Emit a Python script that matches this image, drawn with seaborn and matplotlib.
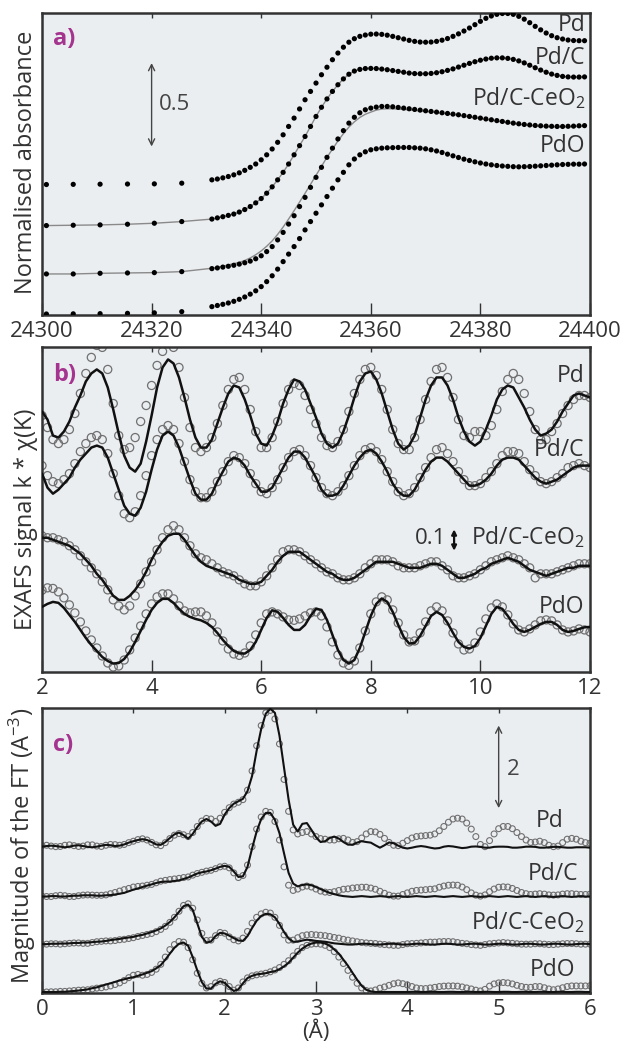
import numpy as np
import matplotlib
matplotlib.use("Agg")
import matplotlib.pyplot as plt
import seaborn as sns

# ---------------- panel a : XANES (normalised absorbance, stacked) ----------------
E_PRE = [24300.8, 24305.7, 24310.6, 24315.6, 24320.5, 24325.5]
E_EDGE = list(range(24331, 24400))
A_LABELS = ["Pd", "Pd/C", "Pd/C-CeO$_2$", "PdO"]

PD_A = [0.782, 0.783, 0.784, 0.785, 0.786, 0.790,
        0.810, 0.815, 0.822, 0.830, 0.840, 0.852, 0.867, 0.885, 0.905, 0.930,
        0.960, 0.995, 1.035, 1.080, 1.130, 1.180, 1.235, 1.290, 1.340, 1.390,
        1.440, 1.485, 1.530, 1.570, 1.605, 1.635, 1.656, 1.670, 1.678, 1.683,
        1.684, 1.682, 1.677, 1.670, 1.662, 1.654, 1.646, 1.640, 1.636, 1.635,
        1.636, 1.640, 1.647, 1.657, 1.670, 1.685, 1.702, 1.720, 1.740, 1.760,
        1.778, 1.792, 1.802, 1.807, 1.807, 1.802, 1.790, 1.773, 1.752, 1.730,
        1.709, 1.690, 1.674, 1.662, 1.654, 1.648, 1.645, 1.644, 1.644]
PDC_A = [0.536, 0.538, 0.540, 0.544, 0.550, 0.560,
         0.575, 0.582, 0.589, 0.597, 0.605, 0.617, 0.632, 0.650, 0.672, 0.698,
         0.730, 0.768, 0.810, 0.855, 0.905, 0.960, 1.015, 1.070, 1.130, 1.190,
         1.245, 1.295, 1.340, 1.380, 1.415, 1.443, 1.462, 1.472, 1.477, 1.478,
         1.477, 1.474, 1.470, 1.465, 1.460, 1.455, 1.450, 1.447, 1.446, 1.446,
         1.448, 1.452, 1.458, 1.466, 1.475, 1.486, 1.497, 1.508, 1.518, 1.527,
         1.534, 1.539, 1.541, 1.541, 1.538, 1.532, 1.523, 1.511, 1.497, 1.482,
         1.468, 1.455, 1.444, 1.436, 1.430, 1.427, 1.426, 1.426, 1.427]
CEO_A = [0.246, 0.246, 0.250, 0.252, 0.254, 0.260,
         0.278, 0.282, 0.287, 0.292, 0.298, 0.305, 0.313, 0.323, 0.337, 0.355,
         0.380, 0.410, 0.450, 0.495, 0.545, 0.595, 0.650, 0.705, 0.765, 0.825,
         0.885, 0.945, 1.000, 1.055, 1.105, 1.150, 1.185, 1.212, 1.230, 1.240,
         1.246, 1.250, 1.250, 1.248, 1.244, 1.240, 1.236, 1.232, 1.228, 1.224,
         1.220, 1.216, 1.212, 1.208, 1.204, 1.200, 1.195, 1.190, 1.185, 1.180,
         1.175, 1.170, 1.165, 1.160, 1.155, 1.150, 1.146, 1.142, 1.139, 1.136,
         1.134, 1.132, 1.131, 1.130, 1.130, 1.131, 1.132, 1.134, 1.135]
CEO_FIT_A = [0.246, 0.246, 0.250, 0.252, 0.254, 0.260,
             0.280, 0.286, 0.292, 0.300, 0.308, 0.315, 0.327, 0.342, 0.361, 0.384,
             0.412, 0.444, 0.483, 0.527, 0.575, 0.625, 0.677, 0.729, 0.783, 0.837,
             0.891, 0.945, 0.994, 1.043, 1.087, 1.126, 1.158, 1.184, 1.203, 1.216,
             1.228, 1.234, 1.236, 1.236, 1.234, 1.232, 1.229, 1.226, 1.223, 1.220,
             1.217, 1.213, 1.209, 1.205, 1.201, 1.197, 1.192, 1.187, 1.182, 1.177,
             1.172, 1.167, 1.162, 1.157, 1.152, 1.147, 1.143, 1.139, 1.136, 1.133,
             1.131, 1.129, 1.128, 1.127, 1.127, 1.128, 1.129, 1.131, 1.132]
PDO_A = [0.006, 0.007, 0.008, 0.010, 0.013, 0.020,
         0.050, 0.057, 0.064, 0.072, 0.082, 0.094, 0.108, 0.125, 0.145, 0.170,
         0.200, 0.235, 0.275, 0.320, 0.365, 0.410, 0.458, 0.510, 0.560, 0.610,
         0.660, 0.710, 0.760, 0.810, 0.855, 0.900, 0.935, 0.960, 0.978, 0.990,
         0.996, 1.000, 1.002, 1.003, 1.004, 1.004, 1.004, 1.002, 1.000, 0.996,
         0.990, 0.983, 0.974, 0.964, 0.954, 0.944, 0.934, 0.926, 0.918, 0.911,
         0.905, 0.900, 0.896, 0.893, 0.891, 0.889, 0.888, 0.889, 0.890, 0.892,
         0.894, 0.896, 0.898, 0.900, 0.902, 0.903, 0.904, 0.904, 0.905]
A_LABEL_Y = [1.74, 1.54, 1.30, 1.01]
A_XTICKS = [24300, 24320, 24340, 24360, 24380, 24400]

# ---------------- panel b : EXAFS k*chi(k), values in units of 0.01 ----------------
K_MIN, K_MAX, K_N = 2.0, 12.0, 101
PD_DAT_B = [128, 122, 116, 114, 116, 121, 129, 139, 149, 157,
            163, 162, 151, 134, 118, 111, 112, 117, 125, 133,
            143, 153, 160, 164, 162, 152, 137, 122, 112, 110,
            112, 117, 124, 133, 141, 146, 147, 141, 131, 120,
            112, 112, 117, 125, 134, 141, 144, 143, 138, 131,
            124, 117, 113, 112, 115, 121, 130, 139, 146, 151,
            152, 148, 141, 131, 121, 114, 111, 111, 117, 126,
            136, 145, 151, 152, 147, 137, 126, 118, 117, 120,
            120, 118, 123, 131, 140, 146, 149, 146, 139, 130,
            121, 116, 116, 120, 124, 129, 133, 136, 138, 138,
            137]
PD_FIT_B = [130, 126, 118, 117, 120, 125, 132, 138, 145, 149,
            151, 149, 142, 131, 119, 108, 102, 100, 104, 115,
            128, 142, 152, 156, 154, 147, 137, 126, 117, 112,
            112, 116, 124, 132, 139, 143, 142, 136, 128, 119,
            114, 113, 118, 125, 134, 141, 146, 145, 141, 134,
            127, 119, 114, 112, 114, 120, 128, 137, 145, 149,
            150, 146, 139, 130, 121, 114, 111, 113, 118, 127,
            136, 143, 147, 147, 143, 136, 127, 120, 115, 113,
            115, 121, 128, 136, 141, 143, 142, 137, 132, 126,
            121, 118, 119, 121, 125, 130, 134, 138, 139, 138,
            137]
PDC_DAT_B = [103, 98, 95, 94, 96, 99, 104, 110, 114, 117,
             118, 116, 109, 99, 88, 79, 77, 80, 88, 98,
             108, 116, 121, 123, 121, 114, 105, 96, 90, 87,
             87, 90, 95, 100, 105, 108, 107, 104, 99, 94,
             90, 89, 92, 96, 102, 107, 110, 111, 108, 103,
             97, 92, 89, 88, 90, 93, 98, 103, 108, 111,
             112, 110, 106, 100, 95, 90, 88, 89, 92, 97,
             102, 107, 111, 112, 109, 105, 100, 96, 93, 93,
             94, 97, 100, 104, 108, 110, 110, 109, 105, 101,
             98, 95, 94, 95, 97, 99, 102, 103, 104, 103,
             102]
PDC_FIT_B = [99, 92, 89, 91, 94, 97, 102, 106, 109, 112,
             113, 112, 107, 99, 91, 83, 79, 78, 82, 90,
             101, 111, 118, 120, 118, 112, 104, 96, 89, 86,
             86, 89, 95, 100, 105, 107, 106, 103, 98, 94,
             90, 90, 92, 97, 102, 107, 110, 110, 107, 102,
             97, 91, 88, 88, 89, 93, 98, 103, 107, 110,
             111, 109, 105, 100, 94, 90, 88, 88, 91, 96,
             101, 105, 107, 107, 105, 102, 99, 96, 93, 93,
             94, 96, 99, 103, 106, 107, 107, 106, 103, 100,
             97, 95, 94, 95, 96, 98, 100, 102, 103, 103,
             103]
CEO_DAT_B = [68, 67, 67, 66, 65, 63, 61, 58, 55, 52,
             49, 45, 41, 36, 33, 31, 33, 38, 44, 50,
             55, 61, 67, 71, 73, 71, 67, 63, 59, 57,
             56, 54, 52, 50, 49, 48, 46, 44, 43, 43,
             45, 48, 52, 56, 60, 61, 61, 60, 58, 56,
             54, 52, 50, 49, 47, 46, 46, 47, 49, 52,
             54, 56, 56, 56, 55, 53, 52, 52, 52, 53,
             54, 55, 55, 53, 51, 48, 47, 47, 48, 49,
             51, 53, 55, 56, 57, 58, 57, 56, 54, 52,
             47, 49, 49, 49, 50, 51, 52, 53, 54, 54,
             54]
CEO_FIT_B = [67, 67, 66, 65, 64, 63, 61, 59, 56, 53,
             49, 46, 42, 38, 36, 36, 38, 41, 45, 50,
             56, 61, 65, 68, 69, 69, 66, 62, 58, 55,
             53, 52, 51, 50, 49, 48, 46, 45, 44, 44,
             45, 48, 51, 55, 58, 60, 60, 60, 58, 56,
             54, 52, 50, 49, 47, 46, 46, 47, 49, 51,
             53, 55, 55, 55, 55, 54, 53, 52, 52, 52,
             53, 54, 54, 53, 51, 49, 47, 47, 48, 49,
             51, 52, 54, 55, 56, 57, 56, 55, 53, 51,
             50, 49, 48, 49, 50, 51, 52, 52, 53, 53,
             53]
PDO_DAT_B = [40.8, 42, 41.7, 40, 37, 33.5, 29.5, 25, 20.5, 16,
             12, 8, 4.5, 2.5, 3, 6, 11, 17, 23, 29,
             34, 37.5, 39, 39, 36.5, 33, 30.5, 29.5, 30, 30,
             28, 24.5, 20, 15.5, 11.5, 9, 8.3, 9.5, 13, 18.5,
             24.5, 29, 30, 29, 27.5, 26, 25.8, 26.5, 28, 29.5,
             30, 28, 22.5, 15, 8.5, 4.5, 3.3, 5.5, 12, 20.5,
             29, 35, 37.5, 36, 31, 24.5, 18.5, 15, 15.5, 19.5,
             25, 30.5, 32.5, 30.5, 25.5, 19.5, 14, 11, 11.5, 14.5,
             20, 26.5, 32, 34, 32.5, 28.5, 24, 21, 20, 21.5,
             23.5, 25.5, 26, 25.5, 23.5, 21, 20, 20.5, 21.5, 21,
             20]
PDO_FIT_B = [32.5, 34, 35, 34.5, 32, 28.5, 25, 21, 17, 13.5,
             10.5, 7.5, 5.5, 4.2, 4.5, 6.5, 10, 15, 20.5, 26,
             31, 34.5, 36.5, 36.5, 34.5, 31.5, 29, 27.5, 26.5, 25.8,
             24.5, 22.5, 19.5, 16, 13, 10.5, 9.3, 9.2, 11, 15,
             21, 27, 30.8, 30, 27, 23.5, 21, 21, 23.5, 28,
             31.5, 31, 26, 18.5, 11, 6, 4.2, 6, 12, 20,
             28, 34, 36.7, 35, 30, 23.5, 17.5, 14.2, 14.5, 18,
             23, 28, 30, 28.5, 24.5, 19.5, 15, 12.5, 11.7, 13,
             17, 23, 29, 32.5, 31.5, 28, 24, 21, 20, 21,
             22.5, 24, 25, 25, 23.5, 21, 20, 20.5, 21.5, 22.3,
             22.5]
B_LABEL_Y = [1.475, 1.108, 0.675, 0.325]
B_XTICKS = [2, 4, 6, 8, 10, 12]

# ---------------- panel c : |FT|, values in units of 0.1 A^-3 ----------------
R_MIN, R_MAX, R_N = 0.0, 6.0, 121
PD_DAT_C = [36.5, 36.6, 36.4, 36.25, 36.3, 36.6, 36.7, 36.5, 36.3, 36.4,
            36.7, 36.7, 36.4, 36.3, 36.6, 36.8, 36.75, 36.6, 36.8, 37.25,
            37.6, 38, 38.2, 37.9, 37.3, 36.7, 36.5, 37.25, 38.25, 39.1,
            39.5, 39.2, 38.75, 39.75, 41.25, 42.6, 43.25, 43.1, 42.5, 43.3,
            44.75, 45.9, 46.8, 47.25, 47.9, 50.25, 55, 61.25, 66.25, 69.4,
            70, 67.9, 61.7, 52.9, 45, 40.4, 39.4, 39.75, 40, 39.4,
            38.75, 38.25, 38.1, 37.9, 37.9, 38.2, 38.3, 37.9, 37.3, 37.5,
            38.4, 39.4, 40, 39.9, 39.3, 38.3, 37.3, 36.6, 36.5, 37.1,
            37.75, 38.4, 38.75, 38.9, 39, 39.1, 39.4, 40.2, 41.25, 42.3,
            43.1, 43.3, 43.1, 42.1, 40.6, 38.75, 36.8, 36.25, 37.75, 39.4,
            40.7, 41.25, 41.25, 40.7, 39.75, 38.75, 37.9, 37.3, 37.4, 37.6,
            37.25, 36.6, 36.25, 36.4, 37.25, 38.1, 38.3, 38.1, 37.6, 37.25,
            37.1]
PD_FIT_C = [36.25, 36.4, 36.5, 36.4, 36.25, 36.1, 36.25, 36.5, 36.6, 36.4,
            36.2, 36.1, 36.25, 36.5, 36.7, 36.6, 36.4, 36.5, 36.8, 37.25,
            37.6, 37.9, 38.1, 37.9, 37.4, 36.8, 36.7, 37.4, 38.4, 39.3,
            39.75, 39.1, 38.25, 39.4, 41.1, 42.5, 43.1, 42.5, 41.4, 41.9,
            44.2, 45.8, 46.9, 47.5, 48.1, 50.0, 53.75, 60.0, 65.4, 69.2,
            70.4, 69.4, 63.75, 55.8, 47.9, 41.7, 40.0, 41.9, 42.1, 40.4,
            38.6, 37.4, 37.6, 38.4, 38.75, 38.25, 37.4, 36.75, 36.75, 37.25,
            37.6, 37.4, 37.25, 36.6, 36.0, 36.6, 37.3, 37.1, 36.5, 36.0,
            35.8, 36.0, 36.25, 36.4, 36.25, 36.0, 35.8, 35.9, 36.25, 36.4,
            36.3, 36.1, 35.9, 36.0, 36.25, 36.3, 36.2, 36.0, 36.0, 36.2,
            36.25, 36.25, 36.2, 36.0, 36.0, 36.1, 36.25, 36.25, 36.2, 36.0,
            36.0, 36.1, 36.2, 36.2, 36.1, 36.0, 36.0, 36.1, 36.1, 36.1,
            36.0]
PDC_DAT_C = [24, 23.9, 23.9, 24.1, 24.2, 24.1, 23.9, 23.9, 24.1, 24.25,
             24.3, 24.25, 24.2, 24.2, 24.3, 24.6, 24.9, 25.25, 25.6, 25.9,
             26.25, 26.4, 26.5, 26.7, 26.9, 27.3, 27.7, 27.9, 28.1, 28.25,
             28.4, 28.6, 28.75, 29.2, 29.6, 29.9, 30.2, 30.4, 30.8, 31.25,
             31.4, 31, 29.75, 28.6, 29.1, 31.7, 36.25, 40.6, 43.6, 45,
             44.75, 42.5, 37.9, 31.25, 26.7, 25.4, 25.75, 26.25, 26.5, 26.25,
             25.75, 25.25, 25, 24.9, 25.1, 25.4, 25.7, 25.8, 26, 26.1,
             26.2, 26.2, 26, 25.7, 25.2, 24.7, 24.25, 24, 24, 24.4,
             24.8, 25.2, 25.4, 25.5, 25.6, 25.7, 25.8, 26.2, 26.5, 26.7,
             26.75, 26.7, 26.25, 25.6, 24.8, 24.25, 24, 24.3, 25.1, 25.75,
             26.2, 26.3, 26.25, 25.9, 25.4, 24.9, 24.6, 24.4, 24.5, 24.6,
             24.5, 24.3, 24.25, 24.3, 24.5, 24.6, 24.6, 24.5, 24.4, 24.4,
             24.5]
PDC_FIT_C = [23.9, 23.9, 24, 24, 23.9, 23.9, 24, 24.1, 24.1, 24.2,
             24.2, 24.2, 24.1, 24.1, 24.2, 24.25, 24.4, 24.6, 24.8, 25.2,
             25.6, 25.9, 26.25, 26.6, 26.9, 27.25, 27.5, 27.6, 27.6, 27.75,
             27.9, 28.25, 28.6, 29.1, 29.6, 29.9, 30.1, 30.4, 30.8, 31.25,
             31.5, 31.25, 30.1, 28.75, 28.9, 31.25, 35.8, 40, 43.1, 44.6,
             44.6, 42.9, 39.6, 34.6, 29.75, 27.1, 26.4, 26.75, 26.9, 26.7,
             26.25, 25.75, 25.25, 24.8, 24.5, 24.2, 24, 23.9, 23.8, 23.9,
             24, 23.9, 23.8, 23.9, 24, 23.9, 23.8, 23.9, 24, 23.9,
             23.8, 23.9, 24, 23.9, 23.8, 23.9, 24, 23.9, 23.8, 23.9,
             24, 23.9, 23.8, 23.9, 24, 23.9, 23.8, 23.9, 24, 23.9,
             23.8, 23.9, 24, 23.9, 23.8, 23.9, 24, 23.9, 23.8, 23.9,
             24, 23.9, 23.8, 23.9, 24, 23.9, 23.8, 23.9, 24, 23.9,
             23.9]
CEO_DAT_C = [12, 12.1, 12.2, 12.2, 12.1, 12.2, 12.3, 12.4, 12.4, 12.3,
             12.3, 12.5, 12.7, 12.8, 12.9, 12.9, 13, 13.2, 13.3, 13.5,
             13.7, 14, 14.25, 14.5, 14.75, 15.2, 15.75, 16.5, 17.5, 18.75,
             20.25, 21.7, 22.1, 21, 18.1, 14.75, 13, 13.1, 14.2, 15,
             14.8, 13.9, 13.2, 12.9, 13.6, 15.25, 17.3, 18.75, 19.6, 20,
             19.8, 18.75, 16.75, 14.4, 13.1, 13.1, 13.7, 14.2, 14.4, 14.5,
             14.4, 14.3, 14.2, 14, 13.75, 13.6, 13.3, 13.1, 12.9, 12.7,
             12.5, 12.4, 12.3, 12.25, 12.1, 12, 11.9, 11.8, 11.8, 12,
             12.2, 12.25, 12.3, 12.4, 12.5, 12.6, 12.6, 12.7, 12.75, 12.75,
             12.7, 12.5, 12.3, 12.2, 12, 11.9, 11.8, 12, 12.2, 12.3,
             12.4, 12.5, 12.4, 12.3, 12.2, 12.1, 12.1, 12.1, 12.2, 12.2,
             12.1, 12, 12, 12.1, 12.2, 12.25, 12.25, 12.2, 12.1, 12.1,
             12.1]
CEO_FIT_C = [12.1, 12.1, 12.2, 12.2, 12.25, 12.25, 12.3, 12.4, 12.4, 12.5,
             12.5, 12.6, 12.7, 12.75, 12.9, 13.1, 13.25, 13.4, 13.6, 13.75,
             13.9, 14.2, 14.4, 14.75, 15.1, 15.5, 16, 16.7, 17.6, 18.75,
             20.1, 21.5, 21.9, 20.6, 17.25, 13.9, 12.5, 12.75, 14.1, 14.9,
             14.75, 14.2, 13.6, 13, 12.9, 14.1, 16.1, 17.9, 19.1, 19.6,
             19.5, 18.75, 17.1, 15.1, 13.5, 12.7, 12.7, 13, 13.2, 13.1,
             12.9, 12.8, 12.7, 12.5, 12.3, 12.2, 12.1, 12, 12, 12.1,
             12.2, 12.2, 12.1, 12, 12, 12.1, 12.2, 12.2, 12.1, 12,
             12, 12.1, 12.2, 12.2, 12.1, 12, 12, 12.1, 12.2, 12.2,
             12.1, 12, 12, 12.1, 12.2, 12.2, 12.1, 12, 12, 12.1,
             12.2, 12.2, 12.1, 12, 12, 12.1, 12.2, 12.2, 12.1, 12,
             12, 12.1, 12.2, 12.2, 12.1, 12, 12, 12.1, 12.2, 12.2,
             12.1]
PDO_DAT_C = [0.25, 0.25, 0.3, 0.3, 0.4, 0.4, 0.5, 0.6, 0.7, 0.75,
             0.8, 1, 1.2, 1.3, 1.5, 1.75, 2.1, 2.5, 3.1, 3.8,
             4.4, 4.6, 4.4, 4.6, 5.1, 5.9, 7.1, 8.9, 10.75, 12,
             12.75, 12.6, 11.25, 8.25, 4.9, 2.4, 1.25, 1.6, 2.5, 2.9,
             2.6, 1.6, 0.7, 1.25, 2.75, 3.75, 4.25, 4.5, 4.7, 4.9,
             5.25, 5.7, 6.3, 7.1, 8, 9.2, 10.3, 11.25, 11.8, 12.1,
             12.2, 12.1, 11.8, 11.25, 10.25, 8.9, 7.3, 5.6, 3.9, 2.4,
             1.25, 0.6, 0.5, 0.75, 1.2, 1.5, 1.9, 2.3, 2.5, 2.3,
             2, 1.6, 1.25, 1.1, 1.1, 1.25, 1.4, 1.6, 1.7, 1.75,
             1.75, 1.7, 1.5, 1.25, 1, 0.7, 0.5, 0.9, 1.7, 2.25,
             2.5, 2.6, 2.5, 2.25, 1.9, 1.6, 1.4, 1.4, 1.6, 1.6,
             1.3, 1, 0.8, 1, 1.3, 1.6, 1.75, 1.75, 1.75, 1.75,
             1.8]
PDO_FIT_C = [0.25, 0.25, 0.25, 0.25, 0.3, 0.3, 0.4, 0.5, 0.6, 0.75,
             0.9, 1.2, 1.4, 1.75, 2.1, 2.4, 2.75, 3.1, 3.4, 3.7,
             3.9, 4.25, 4.6, 5, 5.4, 6.1, 6.9, 8.25, 9.75, 11.2,
             12.2, 12.5, 11.7, 8.9, 5.6, 2.7, 1.1, 1.1, 2.25, 2.9,
             2.5, 1.4, 0.5, 0.9, 2.4, 3.7, 4.25, 4.6, 4.75, 4.9,
             5.2, 5.4, 5.9, 6.6, 7.5, 8.75, 10, 11, 11.75, 12.25,
             12.5, 12.5, 12.25, 11.7, 10.8, 9.75, 8.25, 6.75, 5, 3.3,
             1.8, 0.8, 0.4, 0.25, 0.25, 0.25, 0.25, 0.25, 0.25, 0.25,
             0.25, 0.3, 0.3, 0.25, 0.25, 0.3, 0.3, 0.25, 0.25, 0.3,
             0.3, 0.25, 0.25, 0.3, 0.3, 0.25, 0.25, 0.3, 0.3, 0.25,
             0.25, 0.3, 0.3, 0.25, 0.25, 0.3, 0.3, 0.25, 0.25, 0.3,
             0.3, 0.25, 0.25, 0.3, 0.3, 0.25, 0.25, 0.3, 0.3, 0.25,
             0.25]
C_LABEL_Y = [4.25, 2.96, 1.75, 0.58]
C_LABEL_X = [0.951, 0.978, 0.989, 0.973]
C_XTICKS = [0, 1, 2, 3, 4, 5, 6]

# ---------------- style ----------------
sns.set_theme(style="ticks")
plt.rcParams["font.family"] = ["Open Sans", "DejaVu Sans"]
plt.rcParams["mathtext.fontset"] = "custom"
plt.rcParams["mathtext.rm"] = "Open Sans"
plt.rcParams["mathtext.it"] = "Open Sans:italic"
plt.rcParams["mathtext.bf"] = "Open Sans:bold"

BG = "#ebeef1"
INK = "#333333"
MAG = "#a5348f"
SPINE_W = 1.8
TICK_FS = 16
LAB_FS = 16.5
YLAB_FS = 17

fig = plt.figure(figsize=(6.25, 10.41), dpi=100)
L, W = 42 / 625, 548 / 625
H = 1041
ax_a = fig.add_axes([L, 1 - 315 / H, W, 302 / H])
ax_b = fig.add_axes([L, 1 - 672 / H, W, 325 / H])
ax_c = fig.add_axes([L, 1 - 993 / H, W, 285 / H])


def style_axes(ax, xticks, xlim, ylim):
    ax.set_facecolor(BG)
    ax.set_xlim(*xlim)
    ax.set_ylim(*ylim)
    ax.set_yticks([])
    ax.set_xticks(xticks)
    ax.set_xticklabels([str(t) for t in xticks])
    ax.tick_params(axis="x", direction="in", length=8.6, width=1.0, color=INK,
                   labelsize=TICK_FS, labelcolor=INK, pad=4.5, top=False)
    for s in ax.spines.values():
        s.set_linewidth(SPINE_W)
        s.set_color(INK)
        s.set_visible(True)
    sec = ax.secondary_xaxis("top")
    sec.set_xticks(xticks)
    sec.tick_params(axis="x", direction="in", length=3.6, width=1.0, color=INK,
                    labeltop=False)
    sec.spines["top"].set_visible(False)


def set_ylab(ax, text, yfrac):
    ax.set_ylabel(text, fontsize=YLAB_FS, color=INK, visible=True)
    ax.yaxis.label.set_visible(True)
    ax.yaxis.set_label_coords(-0.008, yfrac)


# ---- panel a ----
E_ALL = E_PRE + E_EDGE
style_axes(ax_a, A_XTICKS, (24300, 24400), (0, 1.81))
sns.lineplot(x=E_ALL, y=PDC_A, ax=ax_a, color="#8a8a8a", linewidth=1.0,
             estimator=None, sort=False, legend=False, zorder=2)
sns.lineplot(x=E_ALL, y=CEO_FIT_A, ax=ax_a, color="#8a8a8a", linewidth=1.0,
             estimator=None, sort=False, legend=False, zorder=2)
for series in (PD_A, PDC_A, CEO_A, PDO_A):
    sns.scatterplot(x=E_ALL, y=series, ax=ax_a, s=14, color="black",
                    edgecolor="none", linewidth=0, legend=False, zorder=3)
for lab, yy in zip(A_LABELS, A_LABEL_Y):
    ax_a.text(0.991, yy, lab, transform=ax_a.get_yaxis_transform(), ha="right",
              va="center", fontsize=LAB_FS, color=INK)
ax_a.annotate("", xy=(24320, 1.51), xytext=(24320, 1.01),
              arrowprops=dict(arrowstyle="<->", color="#444444", lw=1.0,
                              shrinkA=0, shrinkB=0, mutation_scale=11))
ax_a.text(24321.4, 1.26, "0.5", ha="left", va="center", fontsize=TICK_FS, color="#444444")
ax_a.text(0.02, 0.915, "a)", transform=ax_a.transAxes, fontsize=17, fontweight="bold",
          color=MAG, ha="left", va="center")
set_ylab(ax_a, "Normalised absorbance", 0.507)

# ---- panel b ----
K = np.round(np.linspace(K_MIN, K_MAX, K_N), 2)
style_axes(ax_b, B_XTICKS, (2, 12), (0, 1.622))
for dat, fit in ((PD_DAT_B, PD_FIT_B), (PDC_DAT_B, PDC_FIT_B),
                 (CEO_DAT_B, CEO_FIT_B), (PDO_DAT_B, PDO_FIT_B)):
    sns.scatterplot(x=K, y=np.array(dat) / 100.0, ax=ax_b, s=34, color="#707070",
                    facecolors="none", edgecolor="#707070", linewidth=0.9,
                    legend=False, zorder=2)
    ax_b.collections[-1].set_facecolor("none")
    sns.lineplot(x=K, y=np.array(fit) / 100.0, ax=ax_b, color="#111111", linewidth=1.8,
                 estimator=None, sort=False, legend=False, zorder=3)
for lab, yy in zip(A_LABELS, B_LABEL_Y):
    ax_b.text(0.990, yy, lab, transform=ax_b.get_yaxis_transform(), ha="right",
              va="center", fontsize=LAB_FS, color=INK)
ax_b.annotate("", xy=(9.52, 0.712), xytext=(9.52, 0.605),
              arrowprops=dict(arrowstyle="<|-|>", color="#111111", lw=1.6,
                              shrinkA=0, shrinkB=0, mutation_scale=7))
ax_b.text(9.38, 0.665, "0.1", ha="right", va="center", fontsize=TICK_FS, color=INK)
ax_b.text(0.02, 0.915, "b)", transform=ax_b.transAxes, fontsize=17, fontweight="bold",
          color=MAG, ha="left", va="center")
set_ylab(ax_b, "EXAFS signal k * χ(K)", 0.47)

# ---- panel c ----
R = np.round(np.linspace(R_MIN, R_MAX, R_N), 3)
style_axes(ax_c, C_XTICKS, (0, 6), (0, 7.06))
for dat, fit in ((PD_DAT_C, PD_FIT_C), (PDC_DAT_C, PDC_FIT_C),
                 (CEO_DAT_C, CEO_FIT_C), (PDO_DAT_C, PDO_FIT_C)):
    sns.scatterplot(x=R, y=np.array(dat) / 10.0, ax=ax_c, s=18, color="#707070",
                    facecolors="none", edgecolor="#707070", linewidth=0.8,
                    legend=False, zorder=2)
    ax_c.collections[-1].set_facecolor("none")
    sns.lineplot(x=R, y=np.array(fit) / 10.0, ax=ax_c, color="#111111", linewidth=1.5,
                 estimator=None, sort=False, legend=False, zorder=3)
for lab, xx, yy in zip(A_LABELS, C_LABEL_X, C_LABEL_Y):
    ax_c.text(xx, yy, lab, transform=ax_c.get_yaxis_transform(), ha="right",
              va="center", fontsize=LAB_FS, color=INK)
ax_c.annotate("", xy=(5.0, 6.625), xytext=(5.0, 4.58),
              arrowprops=dict(arrowstyle="<->", color="#444444", lw=1.0,
                              shrinkA=0, shrinkB=0, mutation_scale=11))
ax_c.text(5.09, 5.54, "2", ha="left", va="center", fontsize=TICK_FS, color="#444444")
ax_c.text(0.02, 0.87, "c)", transform=ax_c.transAxes, fontsize=17, fontweight="bold",
          color=MAG, ha="left", va="center")
set_ylab(ax_c, "Magnitude of the FT (A$^{-3}$)", 0.516)
ax_c.set_xlabel("(Å)", fontsize=TICK_FS, color=INK, labelpad=0, visible=True)

fig.savefig("out.png", dpi=100, facecolor="white")
